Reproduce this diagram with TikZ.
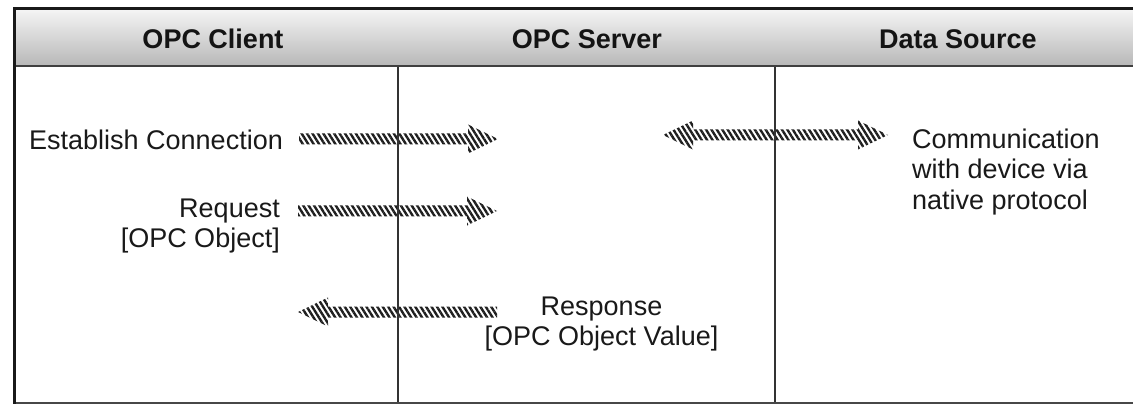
\documentclass[tikz,border=0pt]{standalone}
\usepackage{fontspec}
\setmainfont{Liberation Sans}
\usetikzlibrary{calc,patterns.meta}

% striped arrow geometry
\newcommand{\arshaft}{5.5pt}
\newcommand{\arhead}{14.5pt}
\newcommand{\arlen}{30pt}

% single-headed striped arrow from #1 (tail) to #2 (tip), horizontal
\newcommand{\stripearrow}[2]{%
  \fill[stripes] let \p1=(#1), \p2=(#2), \n1={ifthenelse(\x2>\x1,1,-1)} in
    (\x1,\y1+\arshaft) -- (\x2-\n1*\arlen,\y1+\arshaft) -- (\x2-\n1*\arlen,\y1+\arhead)
    -- (\x2,\y2) -- (\x2-\n1*\arlen,\y1-\arhead) -- (\x2-\n1*\arlen,\y1-\arshaft)
    -- (\x1,\y1-\arshaft) -- cycle;}

% double-headed striped arrow between #1 and #2, horizontal
\newcommand{\stripearrowboth}[2]{%
  \fill[stripes] let \p1=(#1), \p2=(#2), \n1={ifthenelse(\x2>\x1,1,-1)} in
    (\x1,\y1) -- (\x1+\n1*\arlen,\y1+\arhead) -- (\x1+\n1*\arlen,\y1+\arshaft)
    -- (\x2-\n1*\arlen,\y1+\arshaft) -- (\x2-\n1*\arlen,\y1+\arhead) -- (\x2,\y2)
    -- (\x2-\n1*\arlen,\y1-\arhead) -- (\x2-\n1*\arlen,\y1-\arshaft)
    -- (\x1+\n1*\arlen,\y1-\arshaft) -- (\x1+\n1*\arlen,\y1-\arhead) -- cycle;}

\tikzset{
  stripes/.style={pattern={Lines[angle=-58,distance=4.6pt,line width=2.4pt]},
                  pattern color=black!88},
  head/.style={font=\fontsize{27}{30.5}\selectfont\bfseries, text=black!92,
               inner sep=0pt, anchor=base},
  label/.style={font=\fontsize{27}{30.5}\selectfont, text=black!90, inner sep=0pt},
  frame/.style={draw=black!90, line width=3pt},
  divider/.style={draw=black!80, line width=1.6pt},
}

\begin{document}
\begin{tikzpicture}[x=1pt,y=1pt]
\useasboundingbox (0,0) rectangle (1133,-406);

% header band
\fill[top color=black!4, bottom color=black!28] (15,-9) rectangle (1133,-66);
\draw[black!75, line width=2pt] (15,-66.5) -- (1133,-66.5);

% column titles
\node[head] (client) at (213,-49) {OPC Client};
\node[head] (server) at (587,-49) {OPC Server};
\node[head] (source) at (958,-49) {Data Source};

% message labels
\node[label, anchor=base west] (establish) at (29,-150) {Establish Connection};
\node[label, anchor=north east, align=right] (request) at (280,-198.7)
  {Request\\{[}OPC Object{]}};
\node[label, anchor=north, align=center] (response) at (601.5,-296.7)
  {Response\\{[}OPC Object Value{]}};
\node[label, anchor=north west, align=left] (device) at (912,-128.7)
  {Communication\\with device via\\native protocol};

% arrow end points
\coordinate (estA) at (299,-139);
\coordinate (estB) at (498,-139);
\coordinate (reqA) at (298,-211);
\coordinate (reqB) at (497,-211);
\coordinate (resA) at (497,-312);
\coordinate (resB) at (298,-312);
\coordinate (devA) at (663,-135);
\coordinate (devB) at (888,-135);

\stripearrow{estA}{estB}
\stripearrow{reqA}{reqB}
\stripearrow{resA}{resB}
\stripearrowboth{devA}{devB}

% column dividers
\draw[divider] (398,-67) -- (398,-403);
\draw[divider] (775,-67) -- (775,-403);

% outer frame
\draw[black!72, line width=2pt] (13,-403) -- (1133,-403);
\draw[frame] (1133,-8.5) -- (14.5,-8.5) -- (14.5,-404);
\end{tikzpicture}
\end{document}
